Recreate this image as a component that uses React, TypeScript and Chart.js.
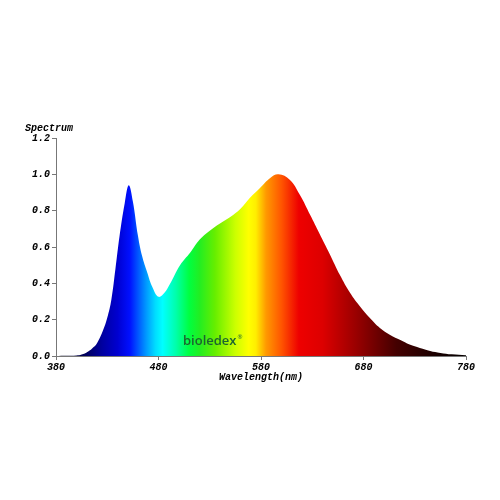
import React, { useEffect, useRef } from "react";
import { Chart, registerables } from "chart.js";

Chart.register(...registerables);

const wavelengths = [380, 390, 400, 405, 411, 415, 420, 426, 430, 434, 438, 442, 447, 451, 455, 460, 464, 469, 474, 480, 486, 491, 501, 511, 520, 530, 540, 550, 560, 569, 579, 589, 597, 608, 618, 628, 637, 647, 657, 667, 677, 686, 696, 706, 716, 725, 735, 745, 755, 766, 780];
const intensities = [0, 0.001, 0.003, 0.008, 0.024, 0.04, 0.07, 0.143, 0.21, 0.31, 0.48, 0.66, 0.84, 0.94, 0.85, 0.66, 0.55, 0.46, 0.38, 0.326, 0.35, 0.395, 0.5, 0.57, 0.64, 0.69, 0.73, 0.765, 0.81, 0.87, 0.925, 0.98, 1.0, 0.97, 0.886, 0.776, 0.675, 0.562, 0.446, 0.347, 0.27, 0.21, 0.154, 0.116, 0.088, 0.063, 0.044, 0.028, 0.017, 0.009, 0.004];
const xTicks = [380, 480, 580, 680, 780];
const yTicks = [0, 0.2, 0.4, 0.6, 0.8, 1.0, 1.2];

const colorStops: [number, string][] = [
  [380, "#000010"], [410, "#000060"], [425, "#0000a0"], [440, "#0000d0"], [452, "#0010ff"],
  [458, "#0044ff"], [468, "#0099ff"], [477, "#00ddff"], [484, "#00ffff"], [497, "#00ffaa"],
  [510, "#00ff40"], [520, "#22ee22"], [535, "#66ee00"], [555, "#ccff00"], [568, "#ffff00"],
  [575, "#ffee00"], [585, "#ff9900"], [600, "#ff5500"], [617, "#ee0000"], [640, "#dd0000"],
  [673, "#990000"], [712, "#440000"], [755, "#150000"], [780, "#050000"],
];

const FONT = "'Liberation Mono', 'Courier New', monospace";

export default function App() {
  const ref = useRef<HTMLCanvasElement | null>(null);
  useEffect(() => {
    if (!ref.current) return;
    const textPlugin = {
      id: "texts",
      afterDraw(chart: any) {
        const { ctx } = chart;
        ctx.save();
        ctx.fillStyle = "#000";
        ctx.font = `italic bold 10px ${FONT}`;
        ctx.textAlign = "left";
        ctx.textBaseline = "middle";
        ctx.fillText("Spectrum", 25, 128);
        ctx.textAlign = "center";
        ctx.fillText("Wavelength(nm)", 261, 377);
        ctx.font = "600 13px 'Open Sans', sans-serif";
        ctx.fillStyle = "#1c6330";
        ctx.textAlign = "left";
        ctx.fillText("bioledex", 183, 341);
        const w = ctx.measureText("bioledex").width;
        ctx.font = "6px 'Open Sans', sans-serif";
        ctx.fillText("®", 183 + w + 1, 337);
        ctx.restore();
      },
    };
    const chart = new Chart(ref.current, {
      type: "line",
      data: {
        datasets: [
          {
            data: wavelengths.map((w, i) => ({ x: w, y: intensities[i] })),
            fill: "origin",
            borderWidth: 0,
            pointRadius: 0,
            tension: 0.4,
            borderColor: "rgba(0,0,0,0)",
            backgroundColor: (context: any) => {
              const c = context.chart;
              const { ctx, chartArea, scales } = c;
              if (!chartArea) return "#00f";
              const x0 = scales.x.getPixelForValue(380);
              const x1 = scales.x.getPixelForValue(780);
              const g = ctx.createLinearGradient(x0, 0, x1, 0);
              colorStops.forEach(([w, col]) => g.addColorStop((w - 380) / 400, col));
              return g;
            },
          },
        ],
      },
      options: {
        animation: false,
        responsive: false,
        layout: { padding: { left: 0, top: 138, right: 34, bottom: 114 } },
        plugins: { legend: { display: false }, tooltip: { enabled: false } },
        scales: {
          x: {
            type: "linear",
            min: 380,
            max: 780,
            afterFit: (axis: any) => { axis.height = 30; },
            afterBuildTicks: (axis: any) => { axis.ticks = xTicks.map((v) => ({ value: v })); },
            grid: { drawOnChartArea: false, drawTicks: true, tickLength: 4, color: "#777" },
            border: { display: true, color: "#777", width: 1 },
            ticks: {
              padding: 1,
              maxRotation: 0,
              color: "#000",
              font: { family: FONT, size: 10, style: "italic", weight: "bold" },
              callback: (v: any) => String(v),
            },
          },
          y: {
            type: "linear",
            min: 0,
            max: 1.2,
            afterFit: (axis: any) => { axis.width = 56; },
            afterBuildTicks: (axis: any) => { axis.ticks = yTicks.map((v) => ({ value: v })); },
            grid: { drawOnChartArea: false, drawTicks: true, tickLength: 4, color: "#777" },
            border: { display: true, color: "#777", width: 1 },
            ticks: {
              padding: 2,
              color: "#000",
              font: { family: FONT, size: 10, style: "italic", weight: "bold" },
              callback: (v: any) => Number(v).toFixed(1),
            },
          },
        },
      },
      plugins: [textPlugin],
    } as any);
    return () => chart.destroy();
  }, []);
  return (
    <div style={{ position: "fixed", left: 0, top: 0, width: 500, height: 500, background: "#fff" }}>
      <canvas ref={ref} width={500} height={500} />
    </div>
  );
}
